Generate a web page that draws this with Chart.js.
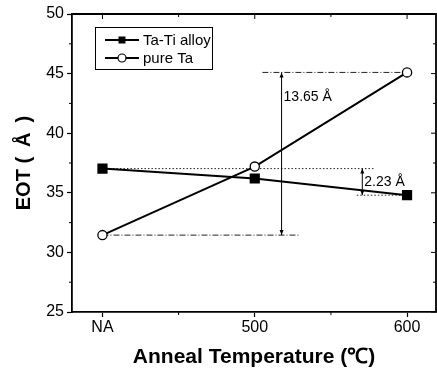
<!DOCTYPE html>
<html>
<head>
<meta charset="utf-8">
<script src="https://cdn.jsdelivr.net/npm/chart.js@4.4.1/dist/chart.umd.min.js"></script>
<style>
html,body{margin:0;padding:0;background:#fff}
#wrap{width:437px;height:370px}
</style>
</head>
<body>
<div id="wrap"><canvas id="c"></canvas></div>
<script>

// data
const categories=["NA","500","600"]
const catX=[0,1,2]
const taTi=[37.03,36.2,34.8]
const pureTa=[31.45,37.2,45.1]
const yTicks=[25,30,35,40,45,50]

// guide lines (x in category units)
const bigTopX=[1.05,2]
const bigBottomX=[0,1.29]
const bigArrowX=1.176
const smallTopX=[0,1.78]
const smallBottomX=[1.67,2]
const smallArrowX=1.706

const FONT="Arial, 'Liberation Sans', sans-serif"

function pts(xs,ys){
return xs.map((x,i)=>({x:x,y:ys[i]}))
}

function hline(xs,y,dash,order){
return{
data:[{x:xs[0],y:y},{x:xs[1],y:y}],
borderColor:"#222",
borderWidth:1,
borderDash:dash,
pointRadius:0,
showLine:true,
order:order
}
}

const framePlugin={
id:"frame",
afterDatasetsDraw(chart){
const ctx=chart.ctx
const a=chart.chartArea
const xs=chart.scales.x
const ys=chart.scales.y
ctx.save()
ctx.strokeStyle="#000"
ctx.lineWidth=1.8
ctx.beginPath()
ctx.moveTo(a.left,a.top)
ctx.lineTo(a.right,a.top)
ctx.lineTo(a.right,a.bottom)
ctx.stroke()

ctx.lineWidth=1
// top ticks inward, bottom minor ticks outward
ctx.beginPath()
catX.forEach(v=>{
const p=xs.getPixelForValue(v)
ctx.moveTo(p,a.top);ctx.lineTo(p,a.top+5)
})
for(let i=0;i<catX.length-1;i++){
const p=xs.getPixelForValue(catX[i]+0.5)
ctx.moveTo(p,a.top);ctx.lineTo(p,a.top+3)
ctx.moveTo(p,a.bottom);ctx.lineTo(p,a.bottom+3)
}
// right ticks inward, left minor outward
yTicks.forEach((v,i)=>{
const p=ys.getPixelForValue(v)
ctx.moveTo(a.right,p);ctx.lineTo(a.right-5,p)
if(i<yTicks.length-1){
const m=ys.getPixelForValue(v+2.5)
ctx.moveTo(a.right,m);ctx.lineTo(a.right-3,m)
ctx.moveTo(a.left,m);ctx.lineTo(a.left-3,m)
}
})
ctx.stroke()

// double arrows
function arrow(xv,y1,y2){
const x=xs.getPixelForValue(xv)
const p1=ys.getPixelForValue(y1)
const p2=ys.getPixelForValue(y2)
ctx.beginPath()
ctx.moveTo(x,p1);ctx.lineTo(x,p2)
ctx.stroke()
ctx.beginPath()
ctx.moveTo(x,p1);ctx.lineTo(x-2,p1+5);ctx.lineTo(x+2,p1+5);ctx.closePath()
ctx.moveTo(x,p2);ctx.lineTo(x-2,p2-5);ctx.lineTo(x+2,p2-5);ctx.closePath()
ctx.fillStyle="#000"
ctx.fill()
}
arrow(bigArrowX,pureTa[2],pureTa[0])
arrow(smallArrowX,taTi[0],taTi[2])

ctx.fillStyle="#000"
ctx.font="14px "+FONT
ctx.textBaseline="middle"
ctx.textAlign="left"
ctx.fillText("13.65 Å",xs.getPixelForValue(bigArrowX)+2,ys.getPixelForValue(43.0))
ctx.fillText("2.23 Å",xs.getPixelForValue(smallArrowX)+2,ys.getPixelForValue(35.9))

// legend box
const lx=a.left+23,ly=a.top+13,lw=117,lh=42
ctx.lineWidth=1
ctx.strokeStyle="#000"
ctx.strokeRect(lx+0.5,ly+0.5,lw,lh)
const rows=[chart.data.datasets[0],chart.data.datasets[1]]
rows.forEach((ds,i)=>{
const cy=ly+13+i*18
ctx.beginPath()
ctx.lineWidth=1.8
ctx.moveTo(lx+10,cy);ctx.lineTo(lx+44,cy)
ctx.stroke()
ctx.lineWidth=1.2
if(ds.pointStyle==="rect"){
ctx.fillStyle="#000"
ctx.fillRect(lx+27-3.5,cy-3.5,7,7)
}else{
ctx.beginPath()
ctx.arc(lx+27,cy,4,0,Math.PI*2)
ctx.fillStyle="#fff"
ctx.fill()
ctx.stroke()
}
ctx.fillStyle="#000"
ctx.font="15px "+FONT
ctx.fillText(ds.label,lx+48,cy+1)
})
ctx.restore()
}
}

new Chart(document.getElementById("c"),{
type:"scatter",
data:{
datasets:[
{
label:"Ta-Ti alloy",
data:pts(catX,taTi),
showLine:true,
borderColor:"#000",
borderWidth:2,
pointStyle:"rect",
pointRadius:5.8,
pointBackgroundColor:"#000",
pointBorderColor:"#000",
order:1
},
{
label:"pure Ta",
data:pts(catX,pureTa),
showLine:true,
borderColor:"#000",
borderWidth:2,
pointStyle:"circle",
pointRadius:4.6,
pointBorderWidth:1.3,
pointBackgroundColor:"#fff",
pointBorderColor:"#000",
order:0
},
hline(bigTopX,pureTa[2],[6,2,1,2],5),
hline(bigBottomX,pureTa[0],[6,2,1,2],5),
hline(smallTopX,taTi[0],[1.5,2],5),
hline(smallBottomX,taTi[2],[1.5,2],5)
]
},
options:{
responsive:true,
maintainAspectRatio:false,
animation:false,
layout:{autoPadding:false,padding:{left:0,top:14,right:1,bottom:0}},
plugins:{legend:{display:false},tooltip:{enabled:false}},
scales:{
x:{
type:"linear",
min:-0.2,
max:2.19,
afterBuildTicks:s=>{s.ticks=catX.map(v=>({value:v}))},
afterFit:s=>{s.height=58;s.paddingLeft=0;s.paddingRight=0},
ticks:{
callback:v=>categories[catX.indexOf(v)]??"",
color:"#000",
font:{family:FONT,size:16},
padding:1,
maxRotation:0
},
grid:{drawOnChartArea:false,tickLength:5,color:"#000",tickWidth:1.2},
border:{color:"#000",width:1.8},
title:{
display:true,
text:"Anneal Temperature (℃)",
color:"#000",
font:{family:FONT,size:21,weight:"bold"},
padding:{top:2,bottom:0}
}
},
y:{
min:25,
max:50,
afterBuildTicks:s=>{s.ticks=yTicks.map(v=>({value:v}))},
afterFit:s=>{s.width=72},
ticks:{
color:"#000",
font:{family:FONT,size:16},
padding:3
},
grid:{drawOnChartArea:false,tickLength:5,color:"#000",tickWidth:1.2},
border:{color:"#000",width:1.8},
title:{
display:true,
text:"EOT (\u2002Å\u2002)",
color:"#000",
font:{family:FONT,size:20,weight:"bold"},
padding:{top:12,bottom:0}
}
}
}
},
plugins:[framePlugin]
})

</script>
</body>
</html>
